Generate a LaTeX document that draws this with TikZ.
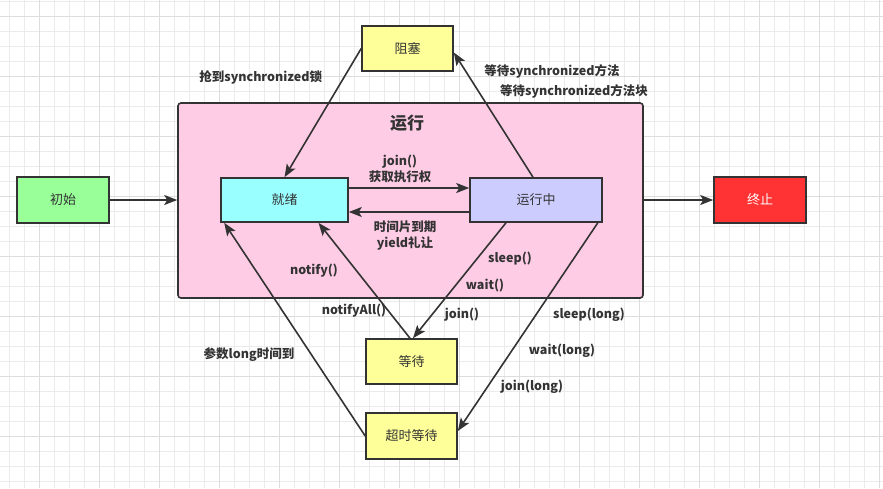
\documentclass[tikz,border=0pt]{standalone}
\usepackage{fontspec}
\setmainfont{Noto Sans CJK SC}
\usetikzlibrary{arrows.meta}
\definecolor{gridminor}{HTML}{EBEBEB}
\definecolor{gridmajor}{HTML}{DDDDDD}
\definecolor{ink}{HTML}{333333}
\definecolor{yel}{HTML}{FFFF99}
\definecolor{pinkbg}{HTML}{FFCCE6}
\definecolor{cyanbox}{HTML}{99FFFF}
\definecolor{lilac}{HTML}{CCCCFF}
\definecolor{greenbox}{HTML}{99FF99}
\definecolor{redbox}{HTML}{FF3333}
\tikzset{
  statebox/.style={draw=ink, line width=1.6pt, text=ink, font=\fontsize{13}{15}\selectfont, inner sep=0pt},
  arr/.style={draw=ink, line width=1.6pt, -{Stealth[length=13pt,width=10pt,inset=3pt]}},
  lbl/.style={text=ink, font=\fontsize{12.5}{16}\selectfont\bfseries, inner sep=0pt, align=center},
}
\begin{document}
\begin{tikzpicture}[x=1pt,y=-1pt]
\useasboundingbox (0,0) rectangle (883,488);
\fill[white] (0,0) rectangle (883,488);
% grid
\foreach \i in {0,...,58} \draw[gridminor, line width=0.9pt] (9.5+15*\i,0) -- (9.5+15*\i,488);
\foreach \i in {0,...,32} \draw[gridminor, line width=0.9pt] (0,1+15*\i) -- (883,1+15*\i);
\foreach \i in {0,...,14} \draw[gridmajor, line width=0.9pt] (39.5+60*\i,0) -- (39.5+60*\i,488);
\foreach \i in {0,...,7} \draw[gridmajor, line width=0.9pt] (0,16+60*\i) -- (883,16+60*\i);

% big running region
\node[draw=ink, line width=1.6pt, fill=pinkbg, rounded corners=3pt, minimum width=465pt, minimum height=195pt, inner sep=0pt] (run) at (410.5,200.5) {};
\node[text=ink, font=\fontsize{17}{20}\selectfont\bfseries, inner sep=0pt] (runtitle) at (407,123) {运行};

% states
\node[statebox, fill=yel, minimum width=91pt, minimum height=45pt] (blocked) at (407.5,48.5) {阻塞};
\node[statebox, fill=cyanbox, minimum width=127pt, minimum height=44pt] (ready) at (284.5,200) {就绪};
\node[statebox, fill=lilac, minimum width=132pt, minimum height=44pt] (running) at (536,200) {运行中};
\node[statebox, fill=greenbox, minimum width=92pt, minimum height=46pt] (init) at (63,200) {初始};
\node[statebox, fill=redbox, text=white, minimum width=92pt, minimum height=46pt] (term) at (760,200) {终止};
\node[statebox, fill=yel, minimum width=91pt, minimum height=45pt] (waiting) at (411.5,361.5) {等待};
\node[statebox, fill=yel, minimum width=91pt, minimum height=46pt] (timedwait) at (411.5,436) {超时等待};

% connectors
\draw[arr] (init.east) -- (run.west |- init.east);
\draw[arr] (run.east |- term.west) -- (term.west);
\draw[arr] (blocked.west) -- (ready.north);
\draw[arr] ([xshift=-3pt]running.north) -- ([yshift=-4pt]blocked.east);
\draw[arr] ([yshift=12pt]ready.east) -- ([yshift=12pt]running.west);
\draw[arr] ([yshift=-12pt]running.west) -- ([yshift=-12pt]ready.east);
\draw[arr] ([xshift=-1.5pt]waiting.north) -- ([xshift=34pt]ready.south);
\draw[arr] ([xshift=-30pt]running.south) -- ([xshift=1.5pt]waiting.north);
\draw[arr] (timedwait.west) -- ([xshift=4pt]ready.south west);
\draw[arr] ([xshift=-5pt]running.south east) -- ([yshift=5pt]timedwait.east);

% labels
\node[lbl] (l1) at (260.7,77.7) {抢到synchronized锁};
\node[lbl] (l2) at (552,71) {等待synchronized方法};
\node[lbl] (l3) at (574,91) {等待synchronized方法块};
\node[lbl] (l4) at (400,168.5) {join()\\获取执行权};
\node[lbl] (l5) at (405,235.5) {时间片到期\\yield礼让};
\node[lbl] (l6) at (314,271) {notify()};
\node[lbl] (l7) at (354,311) {notifyAll()};
\node[lbl] (l8) at (510,259) {sleep()};
\node[lbl] (l9) at (485,286) {wait()};
\node[lbl] (l10) at (462,315) {join()};
\node[lbl] (l11) at (249,355) {参数long时间到};
\node[lbl] (l12) at (589,315) {sleep(long)};
\node[lbl] (l13) at (562,351) {wait(long)};
\node[lbl] (l14) at (532,387) {join(long)};
\end{tikzpicture}
\end{document}
